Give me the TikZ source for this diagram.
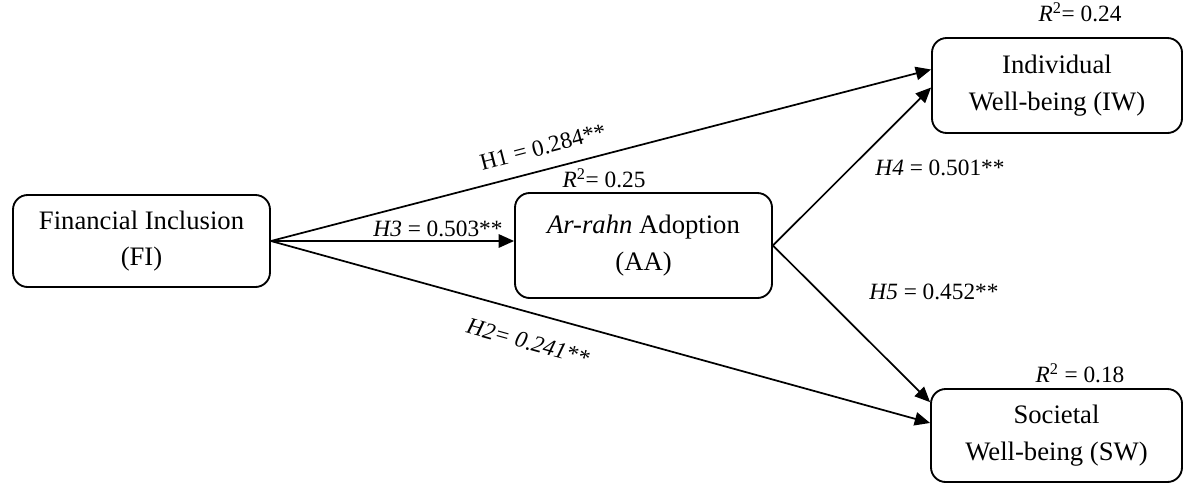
\documentclass[tikz,border=0pt]{standalone}
\usepackage{fontspec}
\setmainfont{Liberation Serif}
\usetikzlibrary{arrows.meta}
\begin{document}
\begin{tikzpicture}[x=0.75pt,y=-0.75pt,
  box/.style={draw, line width=1.4pt, rounded corners=11pt, align=center, fill=white,
    font=\fontsize{20}{27.5}\selectfont, inner sep=0pt},
  lab/.style={font=\fontsize{17.5}{21}\selectfont, inner sep=0pt},
  arr/.style={line width=1.3pt, -{Triangle[length=11.5pt,width=10pt]}}]
\useasboundingbox (0,0) rectangle (1184,486);
\node[box, minimum width=192.75pt, minimum height=69pt] (FI) at (141.5,241) {Financial Inclusion\\(FI)};
\node[box, minimum width=192.75pt, minimum height=78.75pt] (AA) at (643.5,245.5) {\textit{Ar-rahn} Adoption\\(AA)};
\node[box, minimum width=187.5pt, minimum height=71.25pt] (IW) at (1057,85.5) {Individual\\Well-being (IW)};
\node[box, minimum width=188.25pt, minimum height=69.75pt] (SW) at (1056.5,435.5) {Societal\\Well-being (SW)};
\draw[arr] (FI.east) -- ([yshift=12pt]IW.west);
\draw[arr] (FI.east) -- ([yshift=9.4pt]SW.west);
\draw[arr] (FI.east) -- (FI.east -| AA.west);
\draw[arr] (AA.east) -- ([yshift=-1.5pt]IW.west);
\draw[arr] (AA.east) -- ([yshift=25pt]SW.west);
\node[lab, rotate=14.6] (l1) at (543,147) {H1 = 0.284**};
\node[lab, rotate=-15.5] (l2) at (528,342) {\itshape H2= 0.241**};
\node[lab] (l3) at (438,229) {\textit{H3} = 0.503**};
\node[lab] (l4) at (940,168) {\textit{H4} = 0.501**};
\node[lab] (l5) at (934,292) {\textit{H5} = 0.452**};
\node[lab] (r1) at (604,178) {\textit{R}\textsuperscript{2}= 0.25};
\node[lab] (r2) at (1080,12) {\textit{R}\textsuperscript{2}= 0.24};
\node[lab] (r3) at (1080,373) {\textit{R}\textsuperscript{2} = 0.18};
\end{tikzpicture}
\end{document}
